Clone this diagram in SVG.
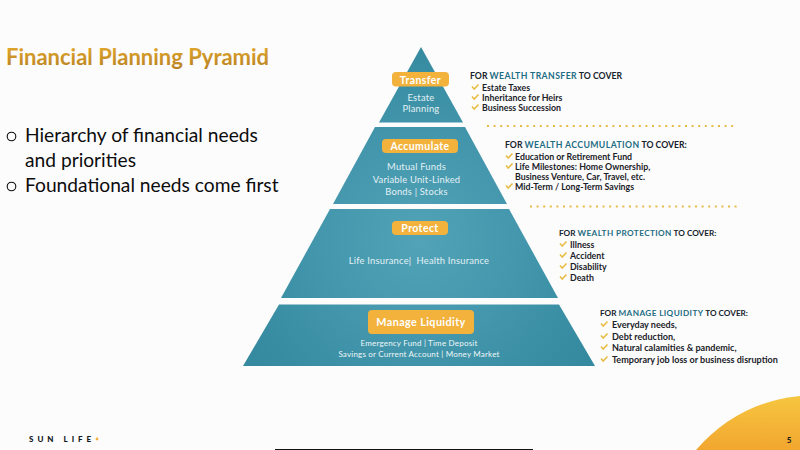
<svg xmlns="http://www.w3.org/2000/svg" width="800" height="450" viewBox="0 0 800 450">
<defs>
<radialGradient id="teal" gradientUnits="userSpaceOnUse" cx="420" cy="240" r="200"><stop offset="0" stop-color="#52a3b8"/><stop offset="1" stop-color="#358a9f"/></radialGradient>
<linearGradient id="sun" x1="0" y1="0" x2="0" y2="1"><stop offset="0" stop-color="#f6c640"/><stop offset="1" stop-color="#f2a62f"/></linearGradient>
<linearGradient id="gold" x1="0" y1="0" x2="0" y2="1"><stop offset="0" stop-color="#e6ad2e"/><stop offset="1" stop-color="#b67f22"/></linearGradient>
<path id="chk" d="M0 -2.500 L2.200 0 L6.500 -4.500" fill="none" stroke="#e8bd45" stroke-width="1.600"/>
</defs>
<style>
text{font-family:"Lato","Liberation Sans",sans-serif}
.tier{fill:url(#teal)}
.pill{fill:#f2b23c}
.pl{fill:#fff;font-weight:700;text-anchor:middle;font-size:10.500px;letter-spacing:.4px}
.in{fill:#e2f1f5;font-size:9.400px;text-anchor:middle;letter-spacing:.2px}
.in2{font-size:8px;fill:#eef7f9}
.h{font-size:8.700px;font-weight:700;fill:#15232b}
.h tspan{fill:#1d6d83;letter-spacing:.4px}
.h2{font-size:8.200px}
.it{font-size:8.800px;font-weight:700;fill:#1a2228}
.it2{font-size:9.050px}
.dot{stroke:#e6bb4a;stroke-width:2;stroke-dasharray:2 4.600;fill:none}
.body{font-size:19.200px;fill:#0c0c0c}
</style>
<rect width="800" height="450" fill="#fdfcfd"/>
<text x="6" y="65" font-size="22" font-weight="700" fill="url(#gold)">Financial Planning Pyramid</text>
<g id="bullets">
<circle cx="11.500" cy="136.500" r="4.300" fill="none" stroke="#0c0c0c" stroke-width="1.100"/>
<text class="body" x="25" y="142">Hierarchy of financial needs</text>
<text class="body" x="25" y="167">and priorities</text>
<circle cx="11.500" cy="186.500" r="4.300" fill="none" stroke="#0c0c0c" stroke-width="1.100"/>
<text class="body" x="25" y="192">Foundational needs come first</text>
</g>
<g id="tier-transfer">
<polygon class="tier" points="421,47 463,122.500 379,122.500"/>
<rect class="pill" x="392" y="72" width="57" height="14.500" rx="4"/>
<text class="pl" x="420.500" y="83.500">Transfer</text>
<text class="in" x="421" y="100.500">Estate</text>
<text class="in" x="421" y="111.500">Planning</text>
</g>
<g id="tier-accumulate">
<polygon class="tier" points="375,127 465,127 507,204 333,204"/>
<rect class="pill" x="382" y="139" width="76" height="14" rx="4"/>
<text class="pl" x="420" y="149.700">Accumulate</text>
<text class="in" x="416.500" y="170">Mutual Funds</text>
<text class="in" x="416.500" y="182.500">Variable Unit-Linked</text>
<text class="in" x="416.500" y="194.700">Bonds | Stocks</text>
</g>
<g id="tier-protect">
<polygon class="tier" points="330,209 509,209 558,298 281,298"/>
<rect class="pill" x="392" y="221" width="56" height="14" rx="4"/>
<text class="pl" x="420" y="231.800">Protect</text>
<text class="in" x="419" y="263.500" xml:space="preserve">Life Insurance|  Health Insurance</text>
</g>
<g id="tier-liquidity">
<polygon class="tier" points="279,304.500 559,304.500 595,366 243,366"/>
<rect class="pill" x="368" y="310" width="106" height="24" rx="4"/>
<text class="pl" x="421" y="325.500" style="font-size:10.800px">Manage Liquidity</text>
<text class="in in2" x="419" y="346">Emergency Fund | Time Deposit</text>
<text class="in in2" x="419" y="356.500">Savings or Current Account | Money Market</text>
</g>
<g id="connectors">
<path class="dot" d="M487 126 H736"/>
<path class="dot" d="M530 206.500 H738"/>
</g>
<g id="note-transfer">
<text class="h" x="470" y="79">FOR <tspan>WEALTH TRANSFER</tspan> TO COVER</text>
<use href="#chk" x="472" y="89"/><text class="it" x="482" y="90.500">Estate Taxes</text>
<use href="#chk" x="472" y="99"/><text class="it" x="482" y="100.500">Inheritance for Heirs</text>
<use href="#chk" x="472" y="109"/><text class="it" x="482" y="110.500">Business Succession</text>
</g>
<g id="note-accumulation">
<text class="h" x="505" y="148">FOR <tspan>WEALTH ACCUMULATION</tspan> TO COVER:</text>
<use href="#chk" x="506" y="158"/><text class="it" x="515" y="159.500">Education or Retirement Fund</text>
<use href="#chk" x="506" y="168"/><text class="it" x="515" y="169.500">Life Milestones: Home Ownership,</text>
<text class="it" x="515" y="179.500">Business Venture, Car, Travel, etc.</text>
<use href="#chk" x="506" y="188"/><text class="it" x="515" y="189.500">Mid-Term / Long-Term Savings</text>
</g>
<g id="note-protection">
<text class="h h2" x="559" y="236">FOR <tspan>WEALTH PROTECTION</tspan> TO COVER:</text>
<use href="#chk" x="560" y="246"/><text class="it" x="570" y="247.500">Illness</text>
<use href="#chk" x="560" y="257"/><text class="it" x="570" y="258.500">Accident</text>
<use href="#chk" x="560" y="268"/><text class="it" x="570" y="269.500">Disability</text>
<use href="#chk" x="560" y="279"/><text class="it" x="570" y="280.500">Death</text>
</g>
<g id="note-liquidity">
<text class="h h2" x="600" y="316">FOR <tspan>MANAGE LIQUIDITY</tspan> TO COVER:</text>
<use href="#chk" x="601" y="326"/><text class="it it2" x="612" y="328">Everyday needs,</text>
<use href="#chk" x="601" y="338"/><text class="it it2" x="612" y="340">Debt reduction,</text>
<use href="#chk" x="601" y="349"/><text class="it it2" x="612" y="351">Natural calamities &amp; pandemic,</text>
<use href="#chk" x="601" y="361"/><text class="it it2" x="612" y="363">Temporary job loss or business disruption</text>
</g>
<path d="M696 450 Q738 402 800 396 V450 Z" fill="url(#sun)"/>
<text x="29" y="442" font-size="8" font-weight="900" letter-spacing="4" fill="#101820">SUN LIFE</text>
<circle cx="97" cy="439" r="1.400" fill="#f2b23c"/>
<text x="789" y="443" font-size="8" font-weight="900" fill="#1a1a1a" text-anchor="middle">5</text>
<rect x="275" y="449" width="258" height="1" fill="#111"/>
</svg>
